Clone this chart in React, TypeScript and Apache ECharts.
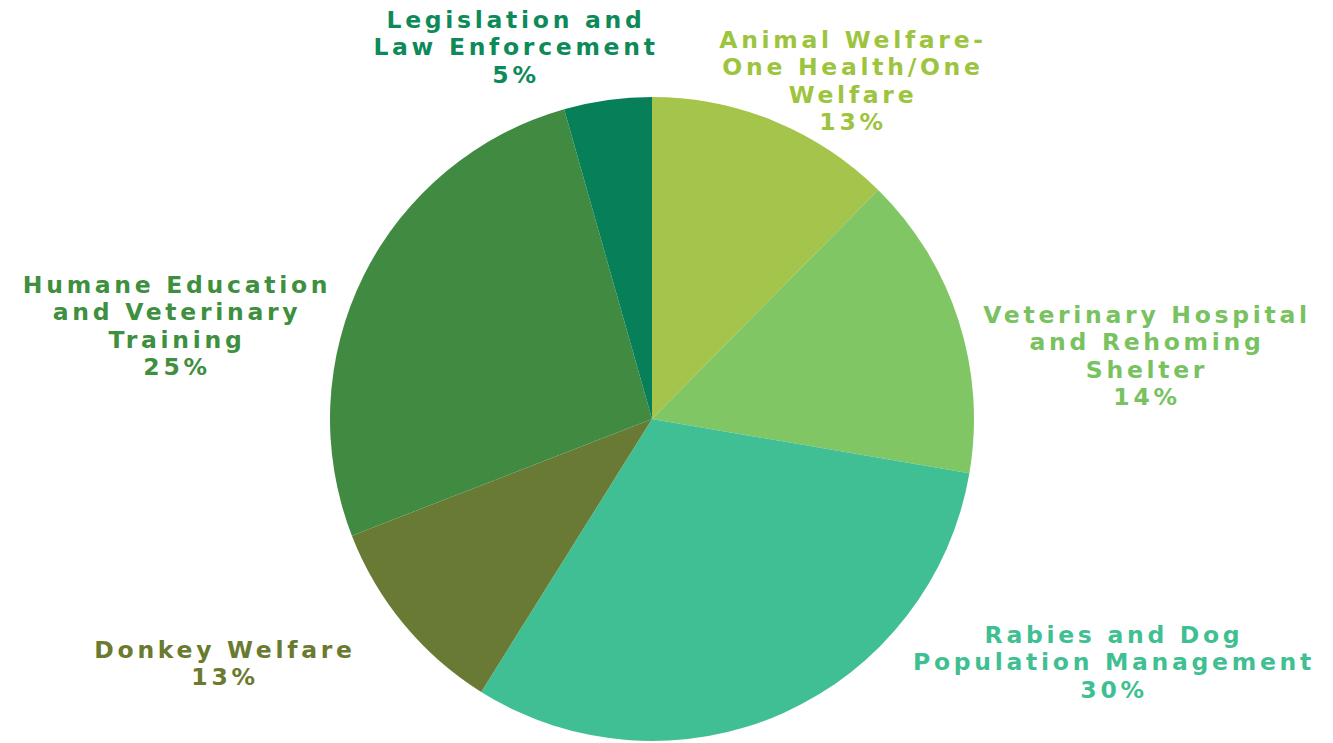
import React, { useEffect, useRef } from "react";
import * as echarts from "echarts";

const categories = [
  "Animal Welfare-\nOne Health/One\nWelfare",
  "Veterinary Hospital\nand Rehoming\nShelter",
  "Rabies and Dog\nPopulation Management",
  "Donkey Welfare",
  "Humane Education\nand Veterinary\nTraining",
  "Legislation and\nLaw Enforcement",
];
const sliceValues = [12.4, 15.3, 31.2, 10.2, 26.5, 4.4];
const percentLabels = ["13%", "14%", "30%", "13%", "25%", "5%"];
const sliceColors = ["#a4c44b", "#80c664", "#40bf95", "#697a35", "#418a41", "#07805a"];
const textColors = ["#9dc43e", "#78c25f", "#3fbf92", "#6a7a2e", "#3e8f3e", "#0e8a5a"];

const labelPos = [
  { x: 853, y: 26 },
  { x: 1147, y: 301 },
  { x: 1114, y: 621 },
  { x: 225, y: 636 },
  { x: 177, y: 271 },
  { x: 516, y: 6 },
];

export default function App() {
  const ref = useRef<HTMLDivElement>(null);
  useEffect(() => {
    if (!ref.current) return;
    const chart = echarts.init(ref.current, null, { renderer: "svg" });
    chart.setOption({
      animation: false,
      backgroundColor: "#ffffff",
      series: [
        {
          type: "pie",
          center: [652, 419],
          radius: 322,
          startAngle: 90,
          clockwise: true,
          avoidLabelOverlap: false,
          itemStyle: { borderWidth: 0 },
          labelLine: { show: false },
          label: {
            show: true,
            position: "outside",
            fontFamily: "DejaVu Sans",
            fontWeight: "bold",
            fontSize: 23.5,
            lineHeight: 27.5,
            align: "center",
            formatter: (p: any) => `${p.name}\n${percentLabels[p.dataIndex]}`,
          },
          labelLayout: (p: any) => ({
            x: labelPos[p.dataIndex].x,
            y: labelPos[p.dataIndex].y,
            align: "center",
            verticalAlign: "top",
          }),
          data: categories.map((name, i) => ({
            name,
            value: sliceValues[i],
            itemStyle: { color: sliceColors[i] },
            label: { color: textColors[i] },
          })),
        },
      ],
    });
    return () => chart.dispose();
  }, []);
  return (
    <>
      <style>{`.pie-host svg text { letter-spacing: 3.7px; }`}</style>
      <div
        ref={ref}
        className="pie-host"
        style={{ position: "fixed", left: 0, top: 0, width: 1333, height: 743 }}
      />
    </>
  );
}
